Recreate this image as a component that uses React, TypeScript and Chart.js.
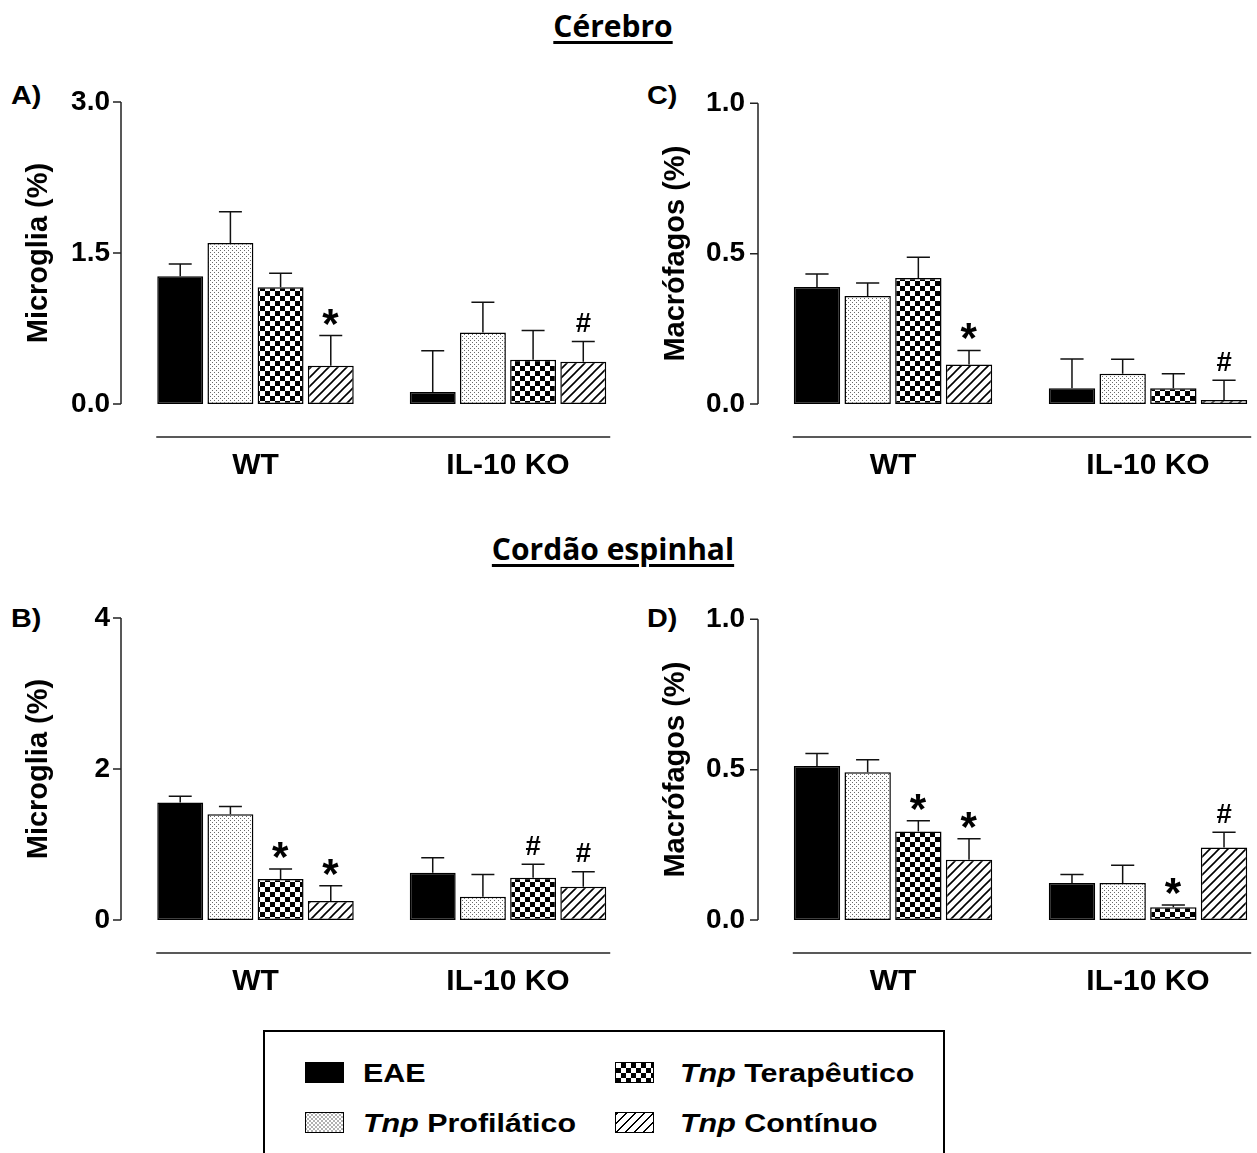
import React, { useEffect, useRef } from 'react';
import { Chart, registerables } from 'chart.js';

Chart.register(...registerables);
Chart.defaults.font.family = '"Liberation Sans", Arial, Helvetica, sans-serif';

const groups = ['WT', 'IL-10 KO'];
const treatments = ['EAE', 'Tnp Profilático', 'Tnp Terapêutico', 'Tnp Contínuo'];

// A) Cérebro – Microglia (%)
const aEae = [1.27, 0.12];
const aEaeSem = [0.12, 0.41];
const aProf = [1.6, 0.71];
const aProfSem = [0.31, 0.3];
const aTera = [1.16, 0.44];
const aTeraSem = [0.14, 0.29];
const aCont = [0.38, 0.42];
const aContSem = [0.3, 0.2];
const aMarks = [['', ''], ['', ''], ['', ''], ['*', '#']];
const aTicks = [0, 1.5, 3];

// C) Cérebro – Macrófagos (%)
const cEae = [0.389, 0.052];
const cEaeSem = [0.043, 0.098];
const cProf = [0.359, 0.101];
const cProfSem = [0.043, 0.048];
const cTera = [0.419, 0.052];
const cTeraSem = [0.069, 0.049];
const cCont = [0.131, 0.013];
const cContSem = [0.047, 0.066];
const cMarks = [['', ''], ['', ''], ['', ''], ['*', '#']];
const cTicks = [0, 0.5, 1];

// B) Cordão espinhal – Microglia (%)
const bEae = [1.555, 0.626];
const bEaeSem = [0.084, 0.198];
const bProf = [1.4, 0.308];
const bProfSem = [0.102, 0.296];
const bTera = [0.542, 0.559];
const bTeraSem = [0.132, 0.181];
const bCont = [0.251, 0.441];
const bContSem = [0.203, 0.198];
const bMarks = [['', ''], ['', ''], ['*', '#'], ['*', '#']];
const bTicks = [0, 2, 4];

// D) Cordão espinhal – Macrófagos (%)
const dEae = [0.512, 0.123];
const dEaeSem = [0.042, 0.028];
const dProf = [0.491, 0.123];
const dProfSem = [0.042, 0.059];
const dTera = [0.294, 0.042];
const dTeraSem = [0.036, 0.008];
const dCont = [0.2, 0.241];
const dContSem = [0.07, 0.051];
const dMarks = [['', ''], ['', ''], ['*', '*'], ['*', '#']];
const dTicks = [0, 0.5, 1];

function makePattern(kind: string): CanvasPattern | string {
  const c = document.createElement('canvas');
  const g = c.getContext('2d');
  if (!g) return '#888';
  if (kind === 'dots') {
    c.width = 4; c.height = 4;
    g.fillStyle = '#fff'; g.fillRect(0, 0, 4, 4);
    g.fillStyle = '#6a6a6a';
    g.fillRect(0, 0, 1, 1); g.fillRect(2, 2, 1, 1);
  } else if (kind === 'checker') {
    c.width = 10; c.height = 10;
    g.fillStyle = '#fff'; g.fillRect(0, 0, 10, 10);
    g.fillStyle = '#000';
    g.fillRect(0, 0, 5, 5); g.fillRect(5, 5, 5, 5);
  } else {
    c.width = 9; c.height = 9;
    g.fillStyle = '#fff'; g.fillRect(0, 0, 9, 9);
    g.strokeStyle = '#000'; g.lineWidth = 1.6;
    g.beginPath();
    g.moveTo(-2, 2); g.lineTo(2, -2);
    g.moveTo(-1, 10); g.lineTo(10, -1);
    g.moveTo(7, 11); g.lineTo(11, 7);
    g.stroke();
  }
  return g.createPattern(c, 'repeat') || '#888';
}

function drawMark(ctx: CanvasRenderingContext2D, mark: string, x: number, cy: number) {
  const target = mark === '*' ? 16 : 19;
  ctx.font = 'bold 100px "Liberation Sans", Arial, sans-serif';
  let m = ctx.measureText(mark);
  const h = m.actualBoundingBoxAscent + m.actualBoundingBoxDescent;
  const size = (100 * target) / (h || 50);
  ctx.font = `bold ${size}px "Liberation Sans", Arial, sans-serif`;
  m = ctx.measureText(mark);
  const asc = m.actualBoundingBoxAscent;
  const desc = m.actualBoundingBoxDescent;
  const left = m.actualBoundingBoxLeft;
  const right = m.actualBoundingBoxRight;
  ctx.textAlign = 'left';
  ctx.textBaseline = 'alphabetic';
  ctx.fillStyle = '#000';
  ctx.fillText(mark, x - (right - left) / 2, cy + (asc - desc) / 2);
}

const prismPlugin = {
  id: 'prism',
  afterDatasetsDraw(chart: any, _args: any, opts: any) {
    const ctx: CanvasRenderingContext2D = chart.ctx;
    const y = chart.scales.y;
    const area = chart.chartArea;
    ctx.save();
    ctx.strokeStyle = '#111';
    ctx.lineWidth = 1.5;
    const marksToDraw: Array<[string, number, number]> = [];
    chart.data.datasets.forEach((ds: any, i: number) => {
      const meta = chart.getDatasetMeta(i);
      meta.data.forEach((el: any, j: number) => {
        const v = ds.data[j];
        const e = ds.sem[j];
        const yt = y.getPixelForValue(v + e);
        const half = el.width * 0.25;
        ctx.beginPath();
        ctx.moveTo(el.x, el.y);
        ctx.lineTo(el.x, yt);
        ctx.moveTo(el.x - half, yt);
        ctx.lineTo(el.x + half, yt);
        ctx.stroke();
        const mk = ds.marks[j];
        if (mk) marksToDraw.push([mk, el.x, yt - 19]);
      });
    });
    // y axis
    const ax = area.left - opts.axisOffset;
    ctx.strokeStyle = '#222';
    ctx.beginPath();
    ctx.moveTo(ax, y.getPixelForValue(y.max));
    ctx.lineTo(ax, y.getPixelForValue(y.min));
    y.ticks.forEach((t: any) => {
      const py = y.getPixelForValue(t.value);
      ctx.moveTo(ax - 8, py);
      ctx.lineTo(ax, py);
    });
    ctx.stroke();
    // group baseline
    const n = chart.data.datasets.length;
    const first = chart.getDatasetMeta(0).data[0];
    const last = chart.getDatasetMeta(n - 1).data[chart.data.labels.length - 1];
    const gy = y.getPixelForValue(0) + 33;
    ctx.beginPath();
    ctx.moveTo(first.x - first.width / 2 - 1, gy);
    ctx.lineTo(last.x + last.width / 2 + 4, gy);
    ctx.stroke();
    marksToDraw.forEach(([mk, x, cy]) => drawMark(ctx, mk, x, cy));
    ctx.restore();
  },
};

type PanelDef = {
  left: number;
  top: number;
  means: number[][];
  sems: number[][];
  marks: string[][];
  ticks: number[];
  decimals: number;
  title: string;
  axisOffset: number;
  yWidth: number;
  padRight: number;
  titlePad: number;
  tickPad: number;
};

const CW = 640;
const CH = 418;

function PanelChart({ p }: { p: PanelDef }) {
  const ref = useRef<HTMLCanvasElement>(null);
  useEffect(() => {
    if (!ref.current) return;
    const fills = ['#000', makePattern('dots'), makePattern('checker'), makePattern('hatch')];
    const chart = new Chart(ref.current, {
      type: 'bar',
      data: {
        labels: groups,
        datasets: treatments.map((t, i) => ({
          label: t,
          data: p.means[i],
          sem: p.sems[i],
          marks: p.marks[i],
          backgroundColor: fills[i] as any,
          borderColor: '#000',
          borderWidth: 1.5,
          borderSkipped: false,
          categoryPercentage: 0.795,
          barPercentage: 0.915,
        })) as any,
      },
      options: {
        responsive: false,
        maintainAspectRatio: false,
        animation: false,
        layout: { padding: { top: 20, right: p.padRight, left: 0, bottom: 0 } },
        plugins: {
          legend: { display: false },
          tooltip: { enabled: false },
          prism: { axisOffset: p.axisOffset },
        } as any,
        scales: {
          x: {
            type: 'category',
            grid: { display: false, drawTicks: false },
            border: { display: false },
            ticks: {
              font: { size: 30, weight: 'bold' },
              color: '#000',
              padding: 44,
              maxRotation: 0,
              autoSkip: false,
            },
            afterFit: (s: any) => {
              s.height = 80;
            },
          },
          y: {
            type: 'linear',
            min: p.ticks[0],
            max: p.ticks[p.ticks.length - 1],
            grid: { display: false, drawTicks: false },
            border: { display: false },
            afterBuildTicks: (s: any) => {
              s.ticks = p.ticks.map((v) => ({ value: v }));
            },
            ticks: {
              callback: (v: any) => Number(v).toFixed(p.decimals),
              font: { size: 28, weight: 'bold' },
              color: '#000',
              padding: p.tickPad,
            },
            title: {
              display: true,
              text: p.title,
              font: { size: 29, weight: 'bold' },
              color: '#000',
              padding: { top: p.titlePad, bottom: 0 },
            },
            afterFit: (s: any) => {
              s.width = p.yWidth;
            },
          },
        } as any,
      },
      plugins: [prismPlugin as any],
    });
    return () => chart.destroy();
  }, []);
  return (
    <canvas
      ref={ref}
      width={CW}
      height={CH}
      style={{ position: 'absolute', left: p.left, top: p.top, width: CW, height: CH }}
    />
  );
}

const leftCommon = { axisOffset: 8.25, yWidth: 129.25, padRight: CW - 634.25, titlePad: 21.1, tickPad: 19.25 };
const rightCommon = { axisOffset: 7.5, yWidth: 125.5, padRight: CW - 635.5, titlePad: 18.6, tickPad: 20.5 };

const panels: PanelDef[] = [
  {
    left: 0, top: 66, ...leftCommon,
    means: [aEae, aProf, aTera, aCont], sems: [aEaeSem, aProfSem, aTeraSem, aContSem],
    marks: aMarks, ticks: aTicks, decimals: 1, title: 'Microglia (%)',
  },
  {
    left: 640, top: 66, ...rightCommon,
    means: [cEae, cProf, cTera, cCont], sems: [cEaeSem, cProfSem, cTeraSem, cContSem],
    marks: cMarks, ticks: cTicks, decimals: 1, title: 'Macrófagos (%)',
  },
  {
    left: 0, top: 582, ...leftCommon,
    means: [bEae, bProf, bTera, bCont], sems: [bEaeSem, bProfSem, bTeraSem, bContSem],
    marks: bMarks, ticks: bTicks, decimals: 0, title: 'Microglia (%)',
  },
  {
    left: 640, top: 582, ...rightCommon,
    means: [dEae, dProf, dTera, dCont], sems: [dEaeSem, dProfSem, dTeraSem, dContSem],
    marks: dMarks, ticks: dTicks, decimals: 1, title: 'Macrófagos (%)',
  },
];

const sans = '"Liberation Sans", Arial, Helvetica, sans-serif';

function Heading({ text, top }: { text: string; top: number }) {
  return (
    <div
      style={{
        position: 'absolute', left: 613, top, transform: 'translateX(-50%)',
        fontFamily: '"Open Sans", sans-serif', fontWeight: 700, fontSize: 30, lineHeight: '30px',
        whiteSpace: 'nowrap', textDecoration: 'underline', textDecorationThickness: '2.5px',
        textUnderlineOffset: '4px', color: '#000',
      }}
    >
      {text}
    </div>
  );
}

function PanelLabel({ text, left, top }: { text: string; left: number; top: number }) {
  return (
    <div
      style={{
        position: 'absolute', left, top, fontFamily: sans, fontWeight: 700, fontSize: 25,
        lineHeight: '25px', transform: 'scaleX(1.15)', transformOrigin: 'left', color: '#000',
      }}
    >
      {text}
    </div>
  );
}

const swatchBg: React.CSSProperties[] = [
  { background: '#000' },
  {
    backgroundColor: '#fff',
    backgroundImage:
      'radial-gradient(#555 0.6px, transparent 0.8px), radial-gradient(#555 0.6px, transparent 0.8px)',
    backgroundSize: '4px 4px, 4px 4px',
    backgroundPosition: '0 0, 2px 2px',
  },
  {
    background: 'conic-gradient(#000 25%, #fff 0 50%, #000 0 75%, #fff 0)',
    backgroundSize: '10px 10px',
  },
  {
    background: 'repeating-linear-gradient(135deg, #000 0 1.6px, #fff 1.6px 6.4px)',
  },
];

function LegendItem({ idx, sx, tx, top }: { idx: number; sx: number; tx: number; top: number }) {
  const t = treatments[idx];
  const italic = t.startsWith('Tnp ');
  return (
    <>
      <div
        style={{
          position: 'absolute', left: sx, top: top + 2, width: 39, height: 21,
          border: '1px solid #000', boxSizing: 'border-box', ...swatchBg[idx],
        }}
      />
      <div
        style={{
          position: 'absolute', left: tx, top, fontFamily: sans, fontWeight: 700, fontSize: 26,
          lineHeight: '26px', whiteSpace: 'nowrap', transform: 'scaleX(1.17)', transformOrigin: 'left',
          color: '#000',
        }}
      >
        {italic ? (
          <>
            <i>Tnp</i> {t.slice(4)}
          </>
        ) : (
          t
        )}
      </div>
    </>
  );
}

export default function App() {
  return (
    <div
      style={{
        position: 'fixed', left: 0, top: 0, width: 1257, height: 1153, overflow: 'hidden',
        background: '#fff',
      }}
    >
      <Heading text="Cérebro" top={11} />
      <Heading text="Cordão espinhal" top={534} />
      <PanelLabel text="A)" left={11} top={83} />
      <PanelLabel text="C)" left={647} top={83} />
      <PanelLabel text="B)" left={11} top={606} />
      <PanelLabel text="D)" left={647} top={606} />
      {panels.map((p, i) => (
        <PanelChart key={i} p={p} />
      ))}
      <div
        style={{
          position: 'absolute', left: 263, top: 1030, width: 682, height: 200,
          border: '2px solid #000', boxSizing: 'border-box',
        }}
      />
      <LegendItem idx={0} sx={305} tx={363} top={1060} />
      <LegendItem idx={1} sx={305} tx={363} top={1110} />
      <LegendItem idx={2} sx={615} tx={680} top={1060} />
      <LegendItem idx={3} sx={615} tx={680} top={1110} />
    </div>
  );
}
